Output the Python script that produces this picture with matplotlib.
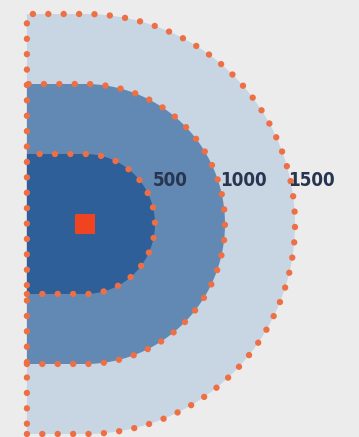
import numpy as np
import matplotlib.pyplot as plt
from matplotlib.patches import Polygon, Rectangle

# distance bands (metres) and their labels
radii = [1500, 1000, 500]
labels = ["1500", "1000", "500"]
fills = ["#c8d5e3", "#6189b3", "#2f5f98"]

DOT = "#ee6f44"
PX = 0.14  # pixels per metre in the picture
LEFT = -415  # flat back of each band, metres

W, H = 359, 437
cx, cy = 85, 224  # centre in pixels

fig = plt.figure(figsize=(W / 100, H / 100), dpi=100)
ax = fig.add_axes([0, 0, 1, 1])
ax.set_xlim(-cx / PX, (W - cx) / PX)
ax.set_ylim(-(H - cy) / PX, cy / PX)
ax.set_aspect("equal")
ax.axis("off")
fig.patch.set_facecolor("#ececec")


def band(r):
    t = np.linspace(-np.pi / 2, np.pi / 2, 200)
    xs = np.concatenate([[LEFT], r * np.cos(t), [LEFT]])
    ys = np.concatenate([[-r], r * np.sin(t), [r]])
    return xs, ys


for r, c in zip(radii, fills):
    xs, ys = band(r)
    ax.add_patch(Polygon(np.column_stack([xs, ys]), closed=True, fc=c, ec="none"))

dots = dict(color=DOT, lw=4.6, linestyle=(0, (0.01, 2.4)), dash_capstyle="round")
for i, r in enumerate(radii):
    xs, ys = band(r)
    if i == 0:
        # outer band carries the straight back edge
        xs = np.concatenate([xs, [LEFT]])
        ys = np.concatenate([ys, [-r]])
    ax.plot(xs, ys, **dots)

for r, lab in zip(radii, labels):
    ax.text(r * 0.965, 44 / PX, lab, ha="left", va="center",
            fontsize=13.5, fontweight="bold", color="#283550",
            family="DejaVu Sans", fontstretch="condensed")

# site marker
s = 20 / PX
ax.add_patch(Rectangle((-s / 2, -s / 2), s, s, fc="#f04320", ec="none", zorder=5))

fig.savefig("out.png", dpi=100, facecolor=fig.get_facecolor())
